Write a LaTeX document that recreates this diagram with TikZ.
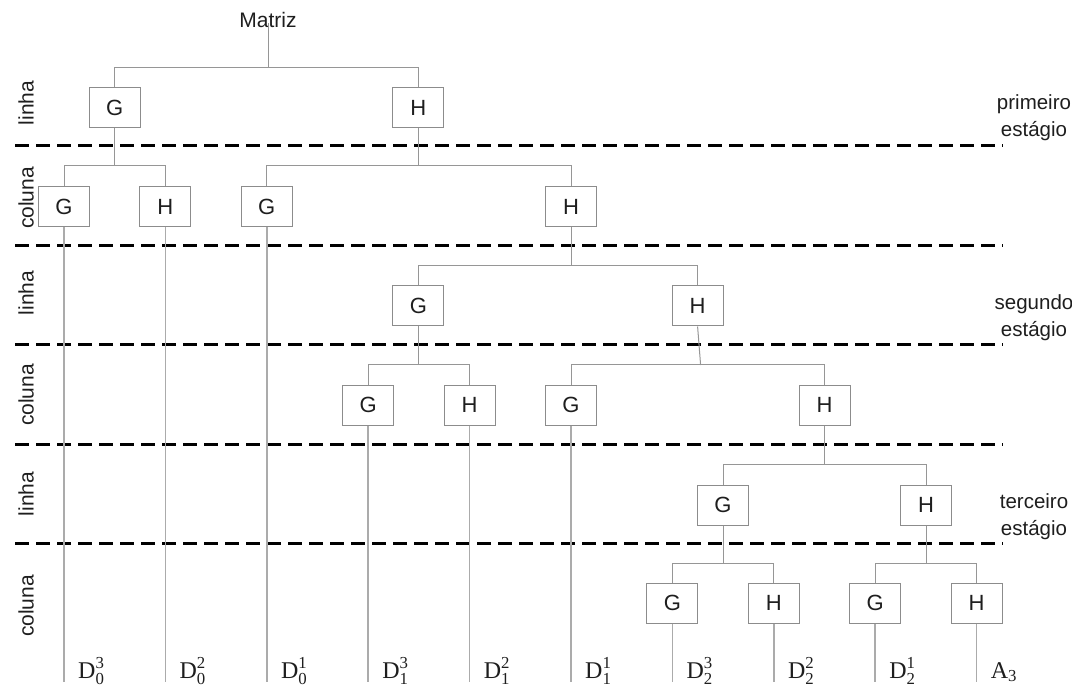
\documentclass[tikz,border=0pt]{standalone}
\usepackage{fontspec}
\usepackage{amsmath}
\setmainfont{Liberation Sans}
\newfontfamily\tnr{Liberation Serif}
\definecolor{linegray}{RGB}{150,150,150}
\definecolor{boxgray}{RGB}{140,140,140}
\definecolor{txt}{RGB}{30,30,30}
\begin{document}
\begin{tikzpicture}[x=1pt,y=-1pt,
  box/.style={draw=boxgray, line width=1pt, minimum width=51pt, minimum height=40pt, inner sep=0pt, text=txt, font=\fontsize{22}{26}\selectfont},
  tree/.style={draw=linegray, line width=1pt},
  leaf/.style={draw=linegray!80, line width=1.5pt},
  sep/.style={draw=black, line width=3pt, dash pattern=on 14pt off 7pt},
  side/.style={rotate=90, text=txt, font=\fontsize{21}{24}\selectfont},
  stage/.style={align=center, text=txt, font=\fontsize{20.5}{27}\selectfont},
  dlab/.style={anchor=base west, inner sep=0pt, text=txt, font=\tnr\fontsize{24}{28}\selectfont},
  ttl/.style={text=txt, font=\fontsize{21}{24}\selectfont}]
\useasboundingbox (0,0) rectangle (1072,687);

% separators
\foreach \y [count=\i] in {146,246,345,444,543}{
  \coordinate (sl\i) at (15,\y);
  \coordinate (sr\i) at (1003,\y);
  \draw[sep] (sl\i) -- (sr\i);
}

% side labels
\node[side] (s1) at (26,103) {linha};
\node[side] (s2) at (26,198) {coluna};
\node[side] (s3) at (26,293) {linha};
\node[side] (s4) at (26,395) {coluna};
\node[side] (s5) at (26,494) {linha};
\node[side] (s6) at (26,606) {coluna};

% stage labels
\node[stage] (st1) at (1034,118) {primeiro\\estágio};
\node[stage] (st2) at (1034,318) {segundo\\estágio};
\node[stage] (st3) at (1034,517) {terceiro\\estágio};

% title
\node[ttl] (mat) at (268,20) {Matriz};

% boxes
\node[box] (g1) at (114.7,108) {G};
\node[box] (h1) at (418.4,108) {H};

\node[box] (g2a) at (64,207) {G};
\node[box] (h2a) at (165.4,207) {H};
\node[box] (g2b) at (266.8,207) {G};
\node[box] (h2b) at (571,207) {H};

\node[box] (g3) at (418.4,306) {G};
\node[box] (h3) at (697.6,306) {H};

\node[box] (g4a) at (368.2,405) {G};
\node[box] (h4a) at (469.6,405) {H};
\node[box] (g4b) at (571,405) {G};
\node[box] (h4b) at (824.5,405) {H};

\node[box] (g5) at (723,505) {G};
\node[box] (h5) at (926,505) {H};

\node[box] (g6a) at (672.4,603) {G};
\node[box] (h6a) at (773.8,603) {H};
\node[box] (g6b) at (875.2,603) {G};
\node[box] (h6b) at (976.6,603) {H};

% bus levels
\coordinate (b0) at (0,68);
\coordinate (b1) at (0,166);
\coordinate (b2) at (0,266);
\coordinate (b3) at (0,365);
\coordinate (b4) at (0,464);
\coordinate (b5) at (0,563);
\coordinate (bot) at (0,682);

% tree connectors
\draw[tree] ([yshift=8pt]mat.south) -- (mat.south |- b0);
\draw[tree] (g1.north) |- (h1.north |- b0) -- (h1.north);

\draw[tree] (g1.south) -- (g1.south |- b1);
\draw[tree] (g2a.north) |- (h2a.north |- b1) -- (h2a.north);
\draw[tree] (h1.south) -- (h1.south |- b1);
\draw[tree] (g2b.north) |- (h2b.north |- b1) -- (h2b.north);

\draw[tree] (h2b.south) -- (h2b.south |- b2);
\draw[tree] (g3.north) |- (h3.north |- b2) -- (h3.north);

\draw[tree] (g3.south) -- (g3.south |- b3);
\draw[tree] (g4a.north) |- (h4a.north |- b3) -- (h4a.north);
\draw[tree] (h3.south) -- ([xshift=3pt]h3.south |- b3);
\draw[tree] (g4b.north) |- (h4b.north |- b3) -- (h4b.north);

\draw[tree] (h4b.south) -- (h4b.south |- b4);
\draw[tree] (g5.north) |- (h5.north |- b4) -- (h5.north);

\draw[tree] (g5.south) -- (g5.south |- b5);
\draw[tree] (g6a.north) |- (h6a.north |- b5) -- (h6a.north);
\draw[tree] (h5.south) -- (h5.south |- b5);
\draw[tree] (g6b.north) |- (h6b.north |- b5) -- (h6b.north);

% leaf lines
\foreach \n in {g2a,h2a,g2b,g4a,h4a,g4b,g6a,h6a,g6b,h6b}{
  \draw[leaf] (\n.south) -- (\n.south |- bot);
}

% output labels
\node[dlab] (d03) at (78,678) {D$^{\text{3}}_{\text{0}}$};
\node[dlab] (d02) at (179.4,678) {D$^{\text{2}}_{\text{0}}$};
\node[dlab] (d01) at (280.8,678) {D$^{\text{1}}_{\text{0}}$};
\node[dlab] (d13) at (382.2,678) {D$^{\text{3}}_{\text{1}}$};
\node[dlab] (d12) at (483.6,678) {D$^{\text{2}}_{\text{1}}$};
\node[dlab] (d11) at (585,678) {D$^{\text{1}}_{\text{1}}$};
\node[dlab] (d23) at (686.4,678) {D$^{\text{3}}_{\text{2}}$};
\node[dlab] (d22) at (787.8,678) {D$^{\text{2}}_{\text{2}}$};
\node[dlab] (d21) at (889.2,678) {D$^{\text{1}}_{\text{2}}$};
\node[dlab] (a3) at (990.6,678) {A$_{\text{3}}$};
\end{tikzpicture}
\end{document}
